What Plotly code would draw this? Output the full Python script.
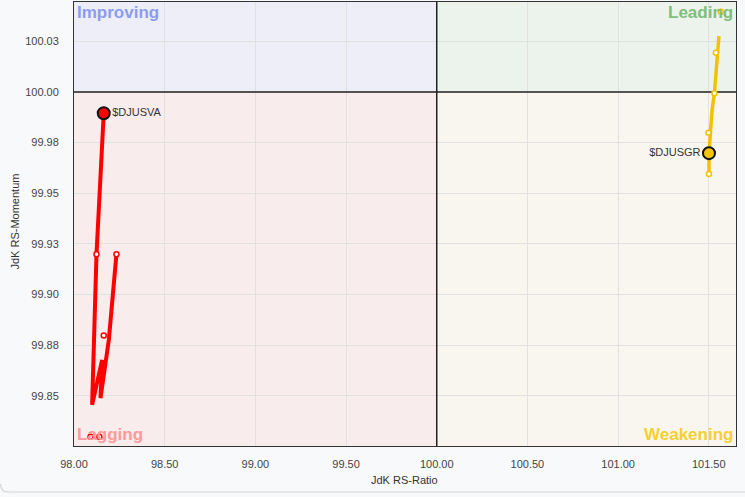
import plotly.graph_objects as go

# ---- data ----
x_ticks = [98.0, 98.5, 99.0, 99.5, 100.0, 100.5, 101.0, 101.5]
x_tick_labels = ["98.00", "98.50", "99.00", "99.50", "100.00", "100.50", "101.00", "101.50"]
y_ticks = [99.85, 99.875, 99.9, 99.925, 99.95, 99.975, 100.0, 100.025]
y_tick_labels = ["99.85", "99.88", "99.90", "99.93", "99.95", "99.98", "100.00", "100.03"]

va_name = "$DJUSVA"
va_line_x = [98.234, 98.192, 98.146, 98.155, 98.100, 98.109, 98.124, 98.164]
va_line_y = [99.9199, 99.8776, 99.8489, 99.8678, 99.8456, 99.8776, 99.9199, 99.9895]
va_pts_x = [98.124, 98.234, 98.164, 98.091, 98.140]
va_pts_y = [99.9199, 99.9199, 99.8798, 99.8299, 99.8299]
va_head = (98.164, 99.9895)

gr_name = "$DJUSGR"
gr_line_x = [101.556, 101.531, 101.518, 101.507, 101.501, 101.501]
gr_line_y = [100.0276, 99.9994, 99.9911, 99.9798, 99.9698, 99.9595]
gr_pts_x = [101.566, 101.539, 101.531, 101.498, 101.501]
gr_pts_y = [100.0396, 100.0194, 99.9994, 99.9799, 99.9595]
gr_head = (101.501, 99.9698)

quadrants = ["Improving", "Leading", "Lagging", "Weakening"]

# ---- styles ----
RED = "#ff0000"
GOLD = "#f2c200"
X_RANGE = [98.0, 101.65]
Y_RANGE = [99.8253, 100.0444]
CENTER = 100.0
FONT = "Liberation Sans, Arial"

fig = go.Figure()

# quadrant backgrounds
quad_fill = {
    "Improving": ("#eeeef9", X_RANGE[0], CENTER, CENTER, Y_RANGE[1]),
    "Leading": ("#ecf3ec", CENTER, X_RANGE[1], CENTER, Y_RANGE[1]),
    "Lagging": ("#f9ecec", X_RANGE[0], CENTER, Y_RANGE[0], CENTER),
    "Weakening": ("#f8f6ee", CENTER, X_RANGE[1], Y_RANGE[0], CENTER),
}
for q in quadrants:
    c, x0, x1, y0, y1 = quad_fill[q]
    fig.add_shape(type="rect", xref="x", yref="y", x0=x0, x1=x1, y0=y0, y1=y1,
                  fillcolor=c, line_width=0, layer="below")

# center cross lines (drawn first, under the trails)
fig.add_trace(go.Scatter(x=[CENTER, CENTER], y=Y_RANGE, mode="lines",
                         line=dict(color="#222222", width=1.5), hoverinfo="skip"))
fig.add_trace(go.Scatter(x=X_RANGE, y=[CENTER, CENTER], mode="lines",
                         line=dict(color="#222222", width=1.5), hoverinfo="skip"))

# card bottom border
fig.add_shape(type="path", xref="paper", yref="paper",
              path="M -0.1109,-0.0856 Q -0.1109,-0.1036 -0.0989,-0.1036 L 1.02,-0.1036",
              line=dict(color="#d4d6d9", width=1.2))

# red trail
fig.add_trace(go.Scatter(x=va_line_x, y=va_line_y, mode="lines",
                         line=dict(color=RED, width=4), hoverinfo="skip"))
fig.add_trace(go.Scatter(x=va_pts_x, y=va_pts_y, mode="markers",
                         marker=dict(size=5, color="white", line=dict(color=RED, width=1.5))))
fig.add_trace(go.Scatter(x=[va_head[0]], y=[va_head[1]], mode="markers+text",
                         text=[va_name], textposition="middle right",
                         textfont=dict(size=11, color="#333333", family=FONT),
                         marker=dict(size=12, color=RED, line=dict(color="#111111", width=2))))

# gold trail
fig.add_trace(go.Scatter(x=gr_line_x, y=gr_line_y, mode="lines",
                         line=dict(color=GOLD, width=3.5), hoverinfo="skip"))
fig.add_trace(go.Scatter(x=gr_pts_x, y=gr_pts_y, mode="markers",
                         marker=dict(size=5, color="white", line=dict(color=GOLD, width=1.5))))
fig.add_trace(go.Scatter(x=[gr_head[0]], y=[gr_head[1]], mode="markers+text",
                         text=[gr_name], textposition="middle left",
                         textfont=dict(size=11, color="#333333", family=FONT),
                         marker=dict(size=12, color="#f5c400", line=dict(color="#111111", width=2))))

# quadrant labels
qlab = {
    "Improving": ("#8c9cf0", 0.003, 1.0, "left", "top"),
    "Leading": ("#7dbf7d", 0.997, 1.0, "right", "top"),
    "Lagging": ("#ff9a9a", 0.003, 0.0, "left", "bottom"),
    "Weakening": ("#f5d030", 0.997, 0.0, "right", "bottom"),
}
for q in quadrants:
    c, x, y, xa, ya = qlab[q]
    fig.add_annotation(text="<b>%s</b>" % q, xref="paper", yref="paper", x=x, y=y,
                       xanchor=xa, yanchor=ya, showarrow=False,
                       font=dict(size=17, color=c, family=FONT),
                       borderpad=0, yshift=0 if ya == "top" else 1)

# axis titles
fig.add_annotation(text="JdK RS-Ratio", xref="paper", yref="paper", x=0.4985, y=-0.077,
                   xanchor="center", yanchor="middle", showarrow=False,
                   font=dict(size=11, color="#333333", family=FONT))
fig.add_annotation(text="JdK RS-Momentum", xref="paper", yref="paper", x=-0.0898, y=0.5045,
                   xanchor="center", yanchor="middle", showarrow=False, textangle=-90,
                   font=dict(size=11, color="#333333", family=FONT))

fig.update_xaxes(range=X_RANGE, tickvals=x_ticks, ticktext=x_tick_labels, automargin=False,
                 showgrid=True, gridcolor="#e1e1e1", gridwidth=1, zeroline=False,
                 showline=True, linecolor="#333333", linewidth=1, mirror=True,
                 ticks="outside", ticklen=8, tickcolor="rgba(0,0,0,0)",
                 tickfont=dict(size=11, color="#444444", family=FONT))
fig.update_yaxes(range=Y_RANGE, tickvals=y_ticks, ticktext=y_tick_labels, automargin=False,
                 showgrid=True, gridcolor="#e1e1e1", gridwidth=1, zeroline=False,
                 showline=True, linecolor="#333333", linewidth=1, mirror=True,
                 ticks="outside", ticklen=12, tickcolor="rgba(0,0,0,0)",
                 tickfont=dict(size=11, color="#444444", family=FONT))

fig.update_layout(width=745, height=497, showlegend=False,
                  margin=dict(l=73.5, r=9, t=2, b=51),
                  paper_bgcolor="#f8f9fa", plot_bgcolor="#ffffff",
                  hovermode=False)

fig.write_html("out.html", config={"displayModeBar": False},
               post_script="document.body.style.margin='0';document.body.style.background='#f8f9fa';")
